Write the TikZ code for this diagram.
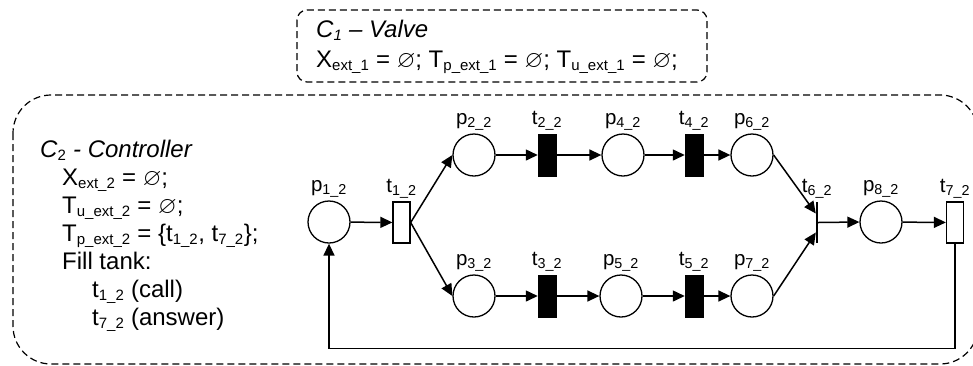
\documentclass[tikz,border=0pt]{standalone}
\usepackage{fontspec}
\setmainfont{Liberation Sans}
\usepackage{amssymb}
\usetikzlibrary{arrows.meta,positioning,calc}

\newcommand{\sbs}[1]{\textsubscript{#1}}
\newcommand{\tsb}[1]{\textsubscript{\fontsize{15}{16}\selectfont #1}}
\newcommand{\es}{$\varnothing$}

\tikzset{
  place/.style={circle,draw,line width=1.3pt,minimum size=42pt,inner sep=0pt},
  trwhite/.style={rectangle,draw,fill=white,line width=1.3pt,minimum width=17pt,minimum height=41pt,inner sep=0pt},
  trblack/.style={rectangle,draw,fill=black,line width=0.5pt,minimum width=18pt,minimum height=42pt,inner sep=0pt},
  trbar/.style={rectangle,fill=black,minimum width=2pt,minimum height=41pt,inner sep=0pt},
  arc/.style={line width=1.5pt,-{Triangle[length=12pt,width=11pt]}},
  compbox/.style={draw,line width=1.2pt,dash pattern=on 7pt off 4pt},
  every label/.style={font=\fontsize{20.5}{24}\selectfont,inner sep=0pt},
}

\begin{document}
\begin{tikzpicture}[x=1pt,y=-1pt,label distance=3pt,font=\fontsize{24}{28}\selectfont]
  \useasboundingbox (0,0) rectangle (973,365);
  % components
  \draw[compbox,rounded corners=10pt] (297,10) rectangle (707,82);
  \draw[compbox,rounded corners=38pt] (13,95) rectangle (978,364);
  \node (c1text) [anchor=north west,align=left,inner sep=0pt] at (316,19.5)
    {\textit{C\tsb{1} – Valve}\\[2pt]
     X\tsb{ext\_1} = \es; T\tsb{p\_ext\_1} = \es; T\tsb{u\_ext\_1} = \es;};
  \node (c2text) [anchor=north west,align=left,inner sep=0pt] at (40,139.5)
    {\textit{C}\tsb{2}\textit{ - Controller}\\
     \hspace*{22pt}X\tsb{ext\_2} = \es;\\
     \hspace*{22pt}T\tsb{u\_ext\_2} = \es;\\
     \hspace*{22pt}T\tsb{p\_ext\_2} = \{t\tsb{1\_2}, t\tsb{7\_2}\};\\
     \hspace*{22pt}Fill tank:\\
     \hspace*{52pt}t\tsb{1\_2} (call)\\
     \hspace*{52pt}t\tsb{7\_2} (answer)};
  % places and transitions
  \node[place,label=above:p\sbs{1\_2}] (p12) at (329,222) {};
  \node[trwhite,label=above:t\sbs{1\_2}] (t12) at (401.5,222.5) {};
  \node[place,label=above:p\sbs{2\_2}] (p22) at (474,155) {};
  \node[trblack,label=above:t\sbs{2\_2}] (t22) at (547,155) {};
  \node[place,label=above:p\sbs{4\_2}] (p42) at (623,155) {};
  \node[trblack,label=above:t\sbs{4\_2}] (t42) at (694,155) {};
  \node[place,label=above:p\sbs{6\_2}] (p62) at (752,155) {};
  \node[place,label=above:p\sbs{3\_2}] (p32) at (474,296) {};
  \node[trblack,label=above:t\sbs{3\_2}] (t32) at (547,296) {};
  \node[place,label=above:p\sbs{5\_2}] (p52) at (621,296) {};
  \node[trblack,label=above:t\sbs{5\_2}] (t52) at (694,296) {};
  \node[place,label=above:p\sbs{7\_2}] (p72) at (752,296) {};
  \node[trbar,label=above:t\sbs{6\_2}] (t62) at (817,222.5) {};
  \node[place,label=above:p\sbs{8\_2}] (p82) at (881,222) {};
  \node[trwhite,label=above:t\sbs{7\_2}] (t72) at (955,222.5) {};
  % arcs
  \draw[arc] (p12) -- (t12);
  \draw[arc] (t12.east) -- (p22.west);
  \draw[arc] (t12.east) -- (p32.west);
  \draw[arc] (p22) -- (t22);
  \draw[arc] (t22) -- (p42);
  \draw[arc] (p42) -- (t42);
  \draw[arc] (t42) -- (p62);
  \draw[arc] (p32) -- (t32);
  \draw[arc] (t32) -- (p52);
  \draw[arc] (p52) -- (t52);
  \draw[arc] (t52) -- (p72);
  \draw[arc] (p62.east) -- ($(t62.west)+(0,-9)$);
  \draw[arc] (p72.east) -- ($(t62.west)+(0,10)$);
  \draw[arc] (t62.east) -- (p82.west);
  \draw[arc] (p82) -- (t72);
  \draw[arc] (t72.south) -- ++(0,105) -| (p12.south);
\end{tikzpicture}
\end{document}
